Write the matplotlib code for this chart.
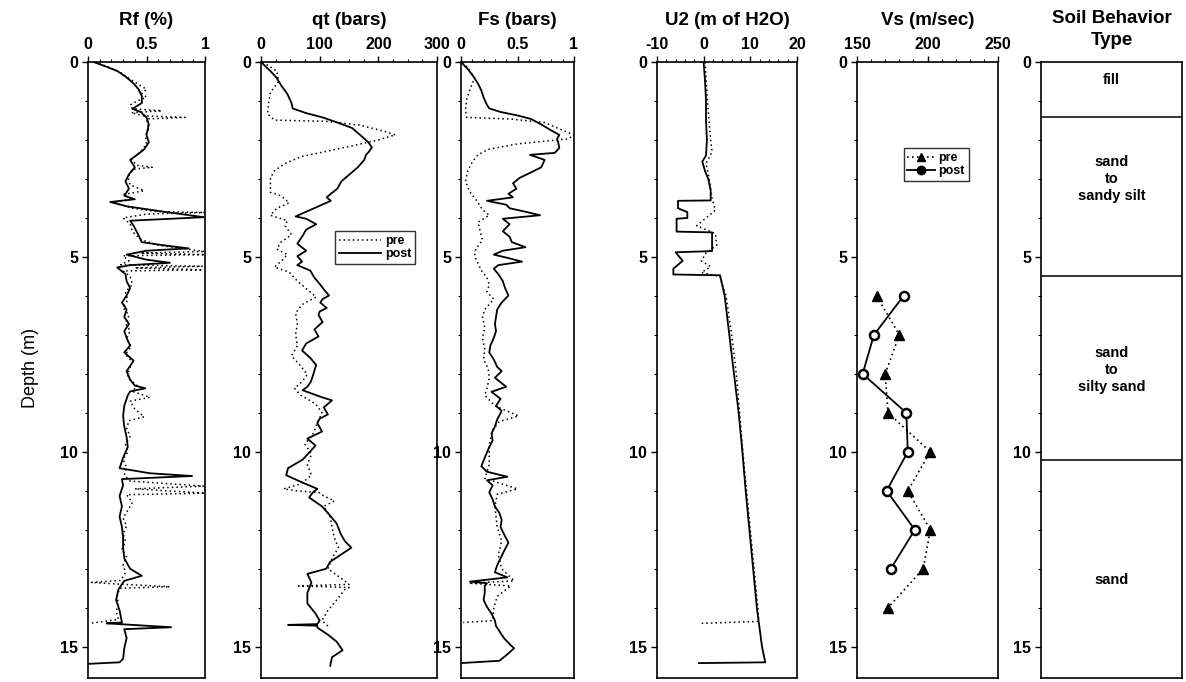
import numpy as np
import matplotlib.pyplot as plt
from matplotlib.ticker import MultipleLocator

plt.rcParams['font.family'] = ['Liberation Sans', 'DejaVu Sans']
plt.rcParams['axes.unicode_minus'] = False

# (depth m, value) pairs
rf_post = [(0.0, 0.05), (0.1, 0.14), (0.23, 0.25), (0.37, 0.32), (0.55, 0.39), (0.69, 0.43), (0.87, 0.46),
           (1.05, 0.46), (1.2, 0.38), (1.28, 0.45), (1.42, 0.5), (1.6, 0.52), (1.87, 0.5), (2.06, 0.52),
           (2.24, 0.48), (2.38, 0.42), (2.51, 0.36), (2.7, 0.4), (2.88, 0.35), (3.06, 0.32), (3.25, 0.35),
           (3.43, 0.31), (3.52, 0.4), (3.59, 0.19), (3.7, 0.33), (3.84, 0.65), (3.98, 0.99), (4.07, 0.36),
           (4.2, 0.39), (4.43, 0.43), (4.62, 0.46), (4.71, 0.67), (4.78, 0.86), (4.84, 0.5), (4.94, 0.33),
           (5.07, 0.5), (5.15, 0.7), (5.21, 0.36), (5.27, 0.25), (5.44, 0.32), (5.62, 0.33), (5.8, 0.36),
           (5.99, 0.33), (6.17, 0.29), (6.35, 0.33), (6.54, 0.31), (6.72, 0.35), (6.9, 0.31), (7.08, 0.33),
           (7.27, 0.36), (7.45, 0.31), (7.66, 0.39), (7.93, 0.33), (8.15, 0.36), (8.3, 0.4), (8.37, 0.49),
           (8.45, 0.36), (8.55, 0.34), (8.82, 0.31), (9.08, 0.3), (9.35, 0.31), (9.62, 0.33), (9.88, 0.34),
           (10.15, 0.3), (10.42, 0.27), (10.55, 0.53), (10.62, 0.89), (10.7, 0.29), (10.86, 0.3), (11.13, 0.27),
           (11.4, 0.29), (11.66, 0.27), (11.93, 0.29), (12.2, 0.3), (12.46, 0.3), (12.73, 0.31), (13.0, 0.36),
           (13.18, 0.46), (13.31, 0.31), (13.53, 0.26), (13.8, 0.24), (14.07, 0.27), (14.38, 0.29), (14.4, 0.16),
           (14.5, 0.71), (14.55, 0.31), (14.78, 0.33), (15.04, 0.31), (15.31, 0.3), (15.4, 0.27), (15.44, 0.0)]
rf_pre = [(0.0, 0.06), (0.1, 0.15), (0.25, 0.27), (0.4, 0.34), (0.55, 0.42), (0.7, 0.5), (0.8, 0.46), (0.9, 0.5),
          (1.0, 0.42), (1.1, 0.36), (1.2, 0.38), (1.25, 0.63), (1.3, 0.37), (1.38, 0.48), (1.42, 0.83), (1.46, 0.5),
          (1.7, 0.52), (1.9, 0.49), (2.1, 0.5), (2.3, 0.45), (2.5, 0.37), (2.65, 0.42), (2.7, 0.55), (2.75, 0.38),
          (2.95, 0.34), (3.15, 0.36), (3.3, 0.48), (3.4, 0.3), (3.5, 0.38), (3.6, 0.22), (3.75, 0.38), (3.84, 0.6),
          (3.86, 1.0), (3.9, 0.5), (4.0, 0.3), (4.15, 0.36), (4.35, 0.38), (4.55, 0.45), (4.7, 0.6), (4.86, 1.0),
          (4.9, 0.45), (4.94, 1.0), (4.97, 0.3), (5.1, 0.35), (5.2, 0.28), (5.24, 0.98), (5.28, 0.4), (5.33, 0.98),
          (5.36, 0.3), (5.5, 0.36), (5.7, 0.38), (5.9, 0.32), (6.1, 0.34), (6.3, 0.3), (6.5, 0.35), (6.7, 0.32),
          (6.9, 0.36), (7.1, 0.33), (7.3, 0.37), (7.5, 0.32), (7.7, 0.38), (7.9, 0.35), (8.1, 0.34), (8.3, 0.42),
          (8.45, 0.38), (8.6, 0.53), (8.7, 0.36), (8.9, 0.4), (9.1, 0.48), (9.2, 0.35), (9.4, 0.33), (9.6, 0.36),
          (9.8, 0.32), (10.0, 0.34), (10.2, 0.3), (10.4, 0.33), (10.6, 0.31), (10.75, 0.36), (10.88, 0.99),
          (10.95, 0.4), (11.06, 1.0), (11.1, 0.33), (11.3, 0.38), (11.5, 0.34), (11.7, 0.3), (11.9, 0.33),
          (12.1, 0.3), (12.3, 0.32), (12.5, 0.29), (12.7, 0.33), (12.9, 0.3), (13.1, 0.32), (13.3, 0.28),
          (13.35, 0.03), (13.4, 0.3), (13.46, 0.7), (13.5, 0.27), (13.7, 0.25), (13.9, 0.26), (14.1, 0.24),
          (14.3, 0.26), (14.4, 0.02)]

qt_post = [(0.0, 0), (0.23, 16), (0.41, 27), (0.59, 34), (0.82, 45), (1.05, 52), (1.19, 54), (1.31, 77),
           (1.42, 105), (1.55, 130), (1.69, 155), (1.87, 169), (2.06, 183), (2.19, 189), (2.3, 184), (2.38, 179),
           (2.51, 176), (2.7, 165), (2.88, 151), (3.06, 137), (3.25, 130), (3.38, 119), (3.47, 112), (3.56, 119),
           (3.7, 98), (3.84, 77), (3.96, 59), (4.02, 77), (4.16, 94), (4.3, 77), (4.48, 70), (4.66, 62), (4.84, 77),
           (4.98, 62), (5.12, 70), (5.21, 62), (5.35, 84), (5.53, 91), (5.71, 101), (5.85, 108), (5.99, 116),
           (6.08, 105), (6.17, 101), (6.31, 112), (6.4, 100), (6.49, 98), (6.67, 105), (6.86, 91), (7.04, 98),
           (7.22, 77), (7.4, 70), (7.59, 84), (7.77, 94), (8.02, 89), (8.2, 85), (8.33, 79), (8.42, 71), (8.6, 104),
           (8.68, 121), (8.86, 107), (9.04, 114), (9.15, 100), (9.26, 96), (9.48, 104), (9.66, 79), (9.84, 93),
           (10.02, 82), (10.2, 71), (10.42, 46), (10.6, 43), (10.77, 68), (10.95, 96), (11.05, 88), (11.17, 82),
           (11.4, 104), (11.57, 114), (11.84, 129), (12.11, 136), (12.29, 143), (12.46, 154), (12.64, 136),
           (12.82, 118), (13.0, 111), (13.13, 79), (13.35, 86), (13.62, 79), (13.89, 79), (14.15, 93), (14.33, 100),
           (14.42, 96), (14.44, 46), (14.46, 96), (14.51, 96), (14.69, 114), (14.87, 129), (15.09, 139),
           (15.27, 121), (15.49, 118)]
qt_pre = [(0.0, 3), (0.23, 27), (0.5, 30), (0.78, 16), (1.05, 13), (1.33, 11), (1.49, 23), (1.52, 112), (1.62, 169),
          (1.78, 211), (1.87, 229), (2.01, 197), (2.15, 155), (2.29, 112), (2.42, 70), (2.6, 41), (2.79, 23),
          (2.97, 16), (3.15, 16), (3.34, 16), (3.43, 34), (3.61, 48), (3.75, 27), (3.93, 16), (4.07, 45), (4.2, 41),
          (4.43, 52), (4.62, 34), (4.8, 27), (4.94, 45), (5.07, 37), (5.26, 23), (5.39, 48), (5.62, 62), (5.9, 84),
          (6.03, 94), (6.22, 70), (6.44, 59), (6.72, 62), (6.99, 59), (7.27, 62), (7.54, 52), (7.77, 66), (8.02, 79),
          (8.2, 70), (8.37, 57), (8.55, 68), (8.77, 93), (8.99, 104), (9.26, 96), (9.53, 89), (9.8, 75),
          (10.06, 86), (10.33, 79), (10.6, 86), (10.82, 68), (10.95, 39), (11.0, 61), (11.05, 100), (11.13, 107),
          (11.26, 125), (11.4, 107), (11.66, 118), (11.93, 121), (12.2, 125), (12.46, 132), (12.73, 121),
          (13.0, 114), (13.27, 139), (13.4, 150), (13.44, 64), (13.48, 150), (13.53, 143), (13.8, 129),
          (14.07, 114), (14.33, 104), (14.47, 114)]

fs_post = [(0.0, 0.0), (0.18, 0.06), (0.37, 0.11), (0.55, 0.15), (0.73, 0.18), (0.91, 0.2), (1.1, 0.23),
           (1.19, 0.25), (1.28, 0.35), (1.37, 0.5), (1.46, 0.62), (1.6, 0.71), (1.74, 0.79), (1.87, 0.87),
           (1.97, 0.85), (2.06, 0.86), (2.2, 0.87), (2.33, 0.83), (2.38, 0.61), (2.51, 0.74), (2.7, 0.71),
           (2.83, 0.62), (2.97, 0.52), (3.11, 0.46), (3.25, 0.49), (3.38, 0.42), (3.47, 0.46), (3.56, 0.23),
           (3.66, 0.4), (3.75, 0.43), (3.84, 0.57), (3.93, 0.7), (4.02, 0.37), (4.16, 0.43), (4.34, 0.37),
           (4.48, 0.43), (4.62, 0.45), (4.75, 0.57), (4.84, 0.37), (4.94, 0.29), (5.03, 0.42), (5.12, 0.54),
           (5.21, 0.33), (5.3, 0.29), (5.44, 0.33), (5.62, 0.37), (5.8, 0.39), (5.99, 0.42), (6.17, 0.36),
           (6.35, 0.32), (6.54, 0.31), (6.72, 0.3), (6.9, 0.31), (7.08, 0.29), (7.27, 0.26), (7.45, 0.25),
           (7.63, 0.29), (7.82, 0.32), (7.93, 0.36), (8.1, 0.3), (8.33, 0.4), (8.46, 0.27), (8.64, 0.35),
           (8.82, 0.31), (8.95, 0.36), (9.17, 0.32), (9.35, 0.3), (9.53, 0.27), (9.71, 0.28), (9.88, 0.25),
           (10.15, 0.21), (10.37, 0.18), (10.51, 0.23), (10.64, 0.41), (10.73, 0.23), (10.86, 0.28), (11.04, 0.25),
           (11.22, 0.28), (11.4, 0.3), (11.57, 0.34), (11.75, 0.36), (11.93, 0.35), (12.11, 0.38), (12.33, 0.42),
           (12.55, 0.38), (12.73, 0.35), (12.91, 0.32), (13.09, 0.3), (13.22, 0.41), (13.28, 0.23), (13.33, 0.08),
           (13.37, 0.23), (13.44, 0.21), (13.62, 0.21), (13.8, 0.2), (13.98, 0.23), (14.15, 0.27), (14.33, 0.3),
           (14.47, 0.31), (14.6, 0.34), (14.78, 0.38), (14.96, 0.44), (15.04, 0.47), (15.22, 0.4), (15.36, 0.34),
           (15.42, 0.0)]
fs_pre = [(0.0, 0.02), (0.23, 0.08), (0.41, 0.12), (0.69, 0.08), (0.96, 0.05), (1.23, 0.04), (1.42, 0.05),
          (1.46, 0.43), (1.55, 0.74), (1.69, 0.85), (1.87, 1.0), (1.97, 0.95), (2.1, 0.5), (2.24, 0.24), (2.38, 0.15),
          (2.56, 0.1), (2.79, 0.06), (3.06, 0.04), (3.34, 0.08), (3.56, 0.14), (3.79, 0.19), (3.93, 0.25),
          (4.11, 0.15), (4.34, 0.17), (4.57, 0.19), (4.8, 0.13), (4.98, 0.12), (5.16, 0.15), (5.35, 0.18),
          (5.53, 0.23), (5.71, 0.25), (5.9, 0.23), (6.08, 0.29), (6.35, 0.21), (6.54, 0.19), (6.81, 0.21),
          (7.08, 0.19), (7.36, 0.21), (7.63, 0.2), (7.86, 0.24), (8.1, 0.25), (8.37, 0.23), (8.55, 0.21),
          (8.82, 0.3), (9.08, 0.51), (9.22, 0.34), (9.44, 0.28), (9.8, 0.25), (10.33, 0.25), (10.68, 0.21),
          (10.95, 0.5), (11.09, 0.32), (11.4, 0.3), (11.93, 0.32), (12.29, 0.36), (12.64, 0.33), (13.0, 0.36),
          (13.31, 0.47), (13.37, 0.07), (13.44, 0.44), (13.71, 0.32), (14.02, 0.29), (14.33, 0.28), (14.38, 0.02)]

u2_post = [(0.0, 0.0), (0.5, 0.3), (1.0, 0.5), (1.5, 0.5), (2.0, 0.7), (2.4, 0.5), (2.55, -0.3), (2.8, 0.3),
           (3.0, 1.0), (3.3, 1.5), (3.55, 1.5), (3.56, -5.5), (3.75, -5.5), (3.85, -3.5), (4.0, -3.5), (4.02, -5.8),
           (4.35, -5.8), (4.37, 1.8), (4.85, 1.8), (4.88, -6.0), (5.1, -4.5), (5.3, -6.5), (5.45, -6.5),
           (5.47, 3.5), (6.0, 4.5), (7.0, 5.5), (7.5, 6.0), (8.0, 6.5), (8.5, 7.0), (9.0, 7.5), (10.0, 8.3),
           (11.0, 9.0), (12.0, 9.8), (13.0, 10.6), (14.0, 11.4), (15.0, 12.5), (15.4, 13.2), (15.42, -1.0)]
u2_pre = [(0.0, 0.3), (1.0, 0.8), (2.0, 1.5), (2.3, 1.8), (2.6, 0.5), (3.0, 1.2), (3.5, 1.8), (3.8, 2.5),
          (4.0, 0.5), (4.2, -1.5), (4.4, 2.5), (4.7, 2.8), (4.9, 0.5), (5.1, -0.5), (5.25, 1.5), (5.4, -0.5),
          (5.5, 3.5), (6.0, 4.8), (7.0, 6.0), (8.0, 7.0), (9.0, 7.7), (10.0, 8.4), (11.0, 9.2), (12.0, 10.0),
          (13.0, 10.8), (14.0, 11.6), (14.35, 11.8), (14.4, -0.5)]

vs_depth_pre = [6, 7, 8, 9, 10, 11, 12, 13, 14]
vs_pre = [164, 180, 170, 172, 202, 186, 202, 197, 172]
vs_depth_post = [6, 7, 8, 9, 10, 11, 12, 13]
vs_post = [183, 162, 154, 185, 186, 171, 191, 174]

soil_bounds = [0, 1.4, 5.5, 10.2]
soil_names = ['fill', 'sand\nto\nsandy silt', 'sand\nto\nsilty sand', 'sand']
soil_label_depth = [0.45, 3.0, 7.9, 13.3]

dot = (0, (1, 2))
bold = dict(fontweight='bold')

fig = plt.figure(figsize=(11.86, 6.82), dpi=100)
bottom, height = 0.006, 0.903
panels = [(88, 117), (261, 176), (461, 113), (657, 140), (857, 141), (1041, 141)]
axes = [fig.add_axes([l / 1186, bottom, w / 1186, height]) for l, w in panels]


def setup(ax, title, xlim, major, minor):
    ax.set_ylim(15.8, 0)
    ax.set_xlim(*xlim)
    ax.xaxis.tick_top()
    ax.xaxis.set_major_locator(MultipleLocator(major))
    ax.xaxis.set_minor_locator(MultipleLocator(minor))
    ax.yaxis.set_major_locator(MultipleLocator(5))
    ax.yaxis.set_minor_locator(MultipleLocator(1))
    ax.tick_params(which='major', length=4, width=1, labelsize=11.5, pad=3)
    ax.tick_params(which='minor', length=2, width=0.8)
    for lab in ax.get_xticklabels() + ax.get_yticklabels():
        lab.set_fontweight('bold')
    if title:
        ax.set_title(title, fontsize=13.5, pad=27, **bold)
    for s in ax.spines.values():
        s.set_linewidth(1.2)


def draw(ax, pairs, **kw):
    arr = np.array(pairs, dtype=float)
    ax.plot(arr[:, 1], arr[:, 0], color='black', **kw)


def bold_legend(ax, anchor, **kw):
    leg = ax.legend(loc='upper left', bbox_to_anchor=anchor, fontsize=9, frameon=True, fancybox=False,
                    edgecolor='black', borderpad=0.3, labelspacing=0.1, handletextpad=0.3,
                    borderaxespad=0, **kw)
    leg.get_frame().set_linewidth(1)
    for t in leg.get_texts():
        t.set_fontweight('bold')
    return leg


ax = axes[0]
draw(ax, rf_pre, lw=1.1, ls=dot)
draw(ax, rf_post, lw=1.3)
setup(ax, 'Rf (%)', (0, 1), 0.5, 0.1)
ax.set_xticks([0, 0.5, 1])
ax.set_xticklabels(['0', '0.5', '1'], **bold)

ax = axes[1]
draw(ax, qt_pre, lw=1.1, ls=dot, label='pre')
draw(ax, qt_post, lw=1.3, label='post')
setup(ax, 'qt (bars)', (0, 300), 100, 25)
bold_legend(ax, (0.42, 0.725), handlelength=3.4)

ax = axes[2]
draw(ax, fs_pre, lw=1.1, ls=dot)
draw(ax, fs_post, lw=1.3)
setup(ax, 'Fs (bars)', (0, 1), 0.5, 0.1)
ax.set_xticks([0, 0.5, 1])
ax.set_xticklabels(['0', '0.5', '1'], **bold)

ax = axes[3]
draw(ax, u2_pre, lw=1.1, ls=dot)
draw(ax, u2_post, lw=1.3)
setup(ax, 'U2 (m of H2O)', (-10, 20), 10, 2)

ax = axes[4]
ax.plot(vs_pre, vs_depth_pre, color='black', ls=dot, lw=1.2, marker='^', ms=6.5,
        mfc='black', mec='black', label='pre')
ax.plot(vs_post, vs_depth_post, color='black', lw=1.3, marker='o', ms=6.5,
        mfc='white', mec='black', mew=1.8, label='post')
setup(ax, 'Vs (m/sec)', (150, 250), 50, 10)
leg = bold_legend(ax, (0.33, 0.86), handlelength=2.2, markerscale=0.8)
leg.legend_handles[1].set_markerfacecolor('black')

ax = axes[5]
setup(ax, '', (0, 1), 1, 1)
ax.tick_params(axis='x', which='both', top=False, labeltop=False)
ax.text(0.5, 1.022, 'Soil Behavior\nType', transform=ax.transAxes, ha='center', va='bottom',
        fontsize=13.5, linespacing=1.35, **bold)
for b in soil_bounds[1:]:
    ax.axhline(b, color='black', lw=1.1)
for name, d in zip(soil_names, soil_label_depth):
    ax.text(0.5, d, name, ha='center', va='center', fontsize=10.5, linespacing=1.25, **bold)

fig.text(0.026, 0.46, 'Depth (m)', rotation=90, ha='center', va='center', fontsize=13)

fig.savefig('out.png', dpi=100)
